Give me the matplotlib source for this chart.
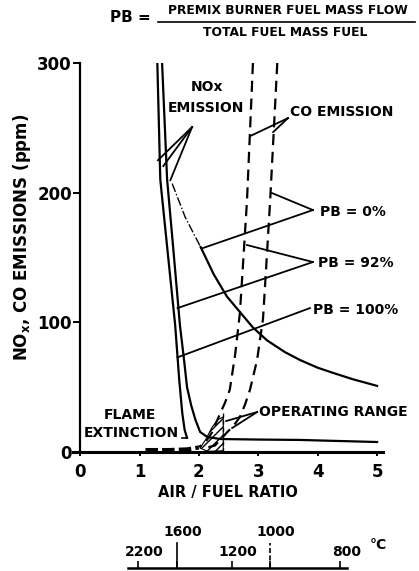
import numpy as np
import matplotlib
matplotlib.use("Agg")
import matplotlib.pyplot as plt
from matplotlib.patches import Polygon

# NOx curves (air/fuel ratio, ppm)
nox_a_af = [1.30, 1.35, 1.47, 1.60, 1.67, 1.72, 1.76, 1.80]
nox_a_ppm = [300, 210, 156, 98, 55, 30, 17, 11]
nox_b_af = [1.38, 1.465, 1.57, 1.68, 1.75, 1.80, 1.87, 1.94, 2.02, 2.14, 2.36,
            3.0, 3.7, 5.0]
nox_b_ppm = [300, 210, 156, 98, 71, 50, 36, 25, 15.5, 11.6, 10,
             9.6, 9.3, 7.7]
nox_0_upper_af = [1.55, 1.77, 2.03]
nox_0_upper_ppm = [207, 181, 158]
nox_0_af = [2.03, 2.25, 2.47, 2.69, 2.91, 3.15, 3.45, 3.70, 4.00, 4.26, 4.60, 5.0]
nox_0_ppm = [158, 137, 120, 108, 96, 86, 77, 71, 65, 61, 56, 51]

# CO curves
co_a_af = [2.91, 2.86, 2.81, 2.75, 2.69, 2.61, 2.52, 2.44, 2.36, 2.22, 2.10, 2.0]
co_a_ppm = [300, 247, 194, 150, 107, 75, 48, 38, 30, 15, 7, 4]
co_b_af = [3.32, 3.26, 3.20, 3.14, 3.08, 2.98, 2.86, 2.78, 2.69, 2.58, 2.47, 2.27, 2.1]
co_b_ppm = [300, 247, 194, 148, 103, 71, 48, 37, 27, 20, 15, 5, 3]
co_low_af = [1.1, 1.5, 1.8, 2.0]
co_low_ppm = [1.5, 1.5, 2.0, 3.5]

# operating range
op_af = [2.02, 2.12, 2.22, 2.32, 2.41, 2.41, 2.15]
op_ppm = [3, 10, 19, 25, 27, 1, 0.5]
op_limit = 2.41

# temperature scale under the A/F axis
temp_labels = ["2200", "1600", "1200", "1000", "800"]
temp_af = [0.98, 1.63, 2.56, 3.20, 4.38]
temp_raised = [False, True, False, True, False]

fig = plt.figure(figsize=(4.19, 5.71), dpi=100)
ax = fig.add_axes([73 / 419, 119 / 571, 310 / 419, 389 / 571])
ax.set_xlim(-0.12, 5.1)
ax.set_ylim(0, 300)

lw = 1.6
dash = (0, (5, 3))
ax.plot(nox_a_af, nox_a_ppm, color="black", lw=lw)
ax.plot(nox_b_af, nox_b_ppm, color="black", lw=lw)
ax.plot(nox_0_upper_af, nox_0_upper_ppm, color="black", lw=1.0, ls="-.")
ax.plot(nox_0_af, nox_0_ppm, color="black", lw=lw)
ax.plot(co_a_af, co_a_ppm, color="black", lw=lw, ls=dash)
ax.plot(co_b_af, co_b_ppm, color="black", lw=lw, ls=dash)
ax.plot(co_low_af, co_low_ppm, color="black", lw=3, ls=(0, (3, 1)))
ax.add_patch(Polygon(list(zip(op_af, op_ppm)), closed=True, fill=False,
                     hatch="////", edgecolor="black", lw=0.8))
ax.plot([op_limit, op_limit], [0, 32], color="black", lw=1.0, ls=(0, (3, 2)))

# leader lines: label tip -> curve
leaders = [
    ((1.885, 250.6), [(1.31, 225), (1.40, 220.5), (1.52, 209.7)]),
    ((3.50, 257.5), [(2.88, 244), (3.25, 246.7)]),
    ((3.92, 186.6), [(2.05, 157), (3.23, 199.7)]),
    ((3.92, 146.5), [(2.81, 159.6), (1.64, 111)]),
    ((3.87, 111.0), [(1.64, 73)]),
    ((2.98, 30.8), [(2.46, 23.9), (2.56, 18.5)]),
]
for tip, ends in leaders:
    for e in ends:
        ax.plot([tip[0], e[0]], [tip[1], e[1]], color="black", lw=1.3,
                clip_on=False)
ax.plot([1.71, 1.80], [11, 11], color="black", lw=1.2)

tk = dict(color="black", fontsize=10, fontweight="bold")
ax.text(2.14, 281.5, "NOx", ha="center", va="center", **tk)
ax.text(2.12, 265.3, "EMISSION", ha="center", va="center", **tk)
ax.text(3.54, 262.5, "CO EMISSION", ha="left", va="center", **tk)
ax.text(4.04, 185, "PB = 0%", ha="left", va="center", **tk)
ax.text(4.01, 145.8, "PB = 92%", ha="left", va="center", **tk)
ax.text(3.92, 109.5, "PB = 100%", ha="left", va="center", **tk)
ax.text(3.01, 30.8, "OPERATING RANGE", ha="left", va="center", **tk)
ax.text(0.84, 28.5, "FLAME", ha="center", va="center", **tk)
ax.text(0.86, 14.7, "EXTINCTION", ha="center", va="center", **tk)

# axes styling
for s in ["top", "right"]:
    ax.spines[s].set_visible(False)
ax.spines["left"].set_position(("data", 0))
ax.spines["left"].set_linewidth(1.6)
ax.spines["bottom"].set_linewidth(2.2)
ax.set_xticks(range(6))
ax.set_yticks([0, 100, 200, 300])
ax.tick_params(axis="y", direction="out", length=5, width=1.4, labelsize=12, pad=1)
ax.tick_params(axis="x", direction="out", length=3, width=1.4, labelsize=12, pad=5)
for t in ax.get_xticklabels() + ax.get_yticklabels():
    t.set_fontweight("bold")
ax.set_xlabel("AIR / FUEL RATIO", fontsize=10.5, fontweight="bold", labelpad=3)
fig.text(22 / 419, 1 - 237 / 571, r"NO$_\mathbf{x}$, CO EMISSIONS (ppm)",
         rotation=90, ha="center", va="center", fontsize=12, fontweight="bold")

# title formula
fig.text(130 / 419, 1 - 18 / 571, "PB =", ha="center", va="center",
         fontsize=11, fontweight="bold")
fig.text(288 / 419, 1 - 11 / 571, "PREMIX BURNER FUEL MASS FLOW", ha="center",
         va="center", fontsize=8.8, fontweight="bold")
fig.text(285 / 419, 1 - 32 / 571, "TOTAL FUEL MASS FUEL", ha="center",
         va="center", fontsize=8.8, fontweight="bold")
fig.add_artist(plt.Line2D([158 / 419, 415 / 419], [1 - 22 / 571, 1 - 22 / 571],
                          color="black", lw=1.2))

# temperature scale, aligned with the A/F axis
ax2 = fig.add_axes([73 / 419, 3 / 571, 310 / 419, 25 / 571])
ax2.set_xlim(ax.get_xlim())
ax2.set_ylim(0, 25)
ax2.patch.set_visible(False)
ax2.set_yticks([])
for s in ["top", "right", "left"]:
    ax2.spines[s].set_visible(False)
ax2.spines["bottom"].set_linewidth(1.8)
ax2.spines["bottom"].set_bounds(0.81, 4.49)
ax2.set_xticks(temp_af)
ax2.set_xticklabels([])
ax2.tick_params(axis="x", direction="in", length=5, width=1.2)
for i, (lab, af, up) in enumerate(zip(temp_labels, temp_af, temp_raised)):
    ax2.text(af + 0.1, 36 if up else 16, lab, ha="center", va="center",
             fontsize=10, fontweight="bold", clip_on=False)
    if up:
        ax2.plot([af, af], [0, 25], color="black", lw=1.2,
                 ls="-" if i == 1 else (0, (3, 1.5)), clip_on=False)
fig.text(378 / 419, 1 - 545 / 571, "°C", ha="center", va="center",
         fontsize=10, fontweight="bold")

fig.savefig("out.png", dpi=100)
